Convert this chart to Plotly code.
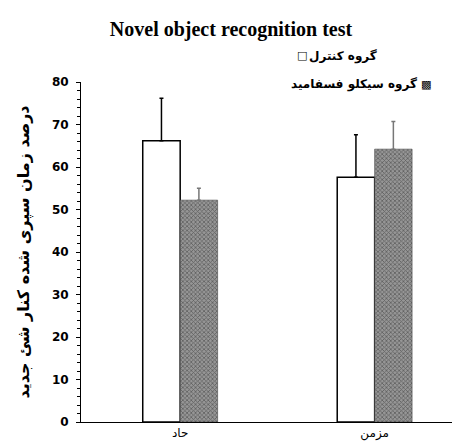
import plotly.graph_objects as go

categories = ["حاد", "مزمن"]
control_vals = [66.2, 57.6]
control_err = [10.0, 10.0]
cyclo_vals = [52.2, 64.2]
cyclo_err = [2.8, 6.5]
series_names = ["گروه کنترل", "گروه سیکلو فسفامید"]
y_ticks = [0, 10, 20, 30, 40, 50, 60, 70, 80]

fig = go.Figure()
fig.add_trace(go.Bar(
    x=categories, y=control_vals, name=series_names[0],
    marker=dict(color="white", line=dict(color="black", width=1.5)),
    error_y=dict(type="data", symmetric=False, array=control_err,
                 arrayminus=[0, 0], color="black", thickness=1.5, width=2),
))
fig.add_trace(go.Bar(
    x=categories, y=cyclo_vals, name=series_names[1],
    marker=dict(color="#8c8c8c", line=dict(color="#444444", width=0.6),
                pattern=dict(shape="x", fgcolor="#262626", bgcolor="#969696",
                             size=3, solidity=0.45)),
    error_y=dict(type="data", symmetric=False, array=cyclo_err,
                 arrayminus=[0, 0], color="#777777", thickness=1.5, width=2),
))


def px_ann(text, x, y, xanchor, size=12):
    pw, ph = 460 - 73, 443 - 74 - 29
    return dict(text=text, x=(x - 73) / pw, y=1 - (y - 74) / ph,
                xref="paper", yref="paper", showarrow=False,
                xanchor=xanchor, yanchor="middle", borderpad=0,
                font=dict(family="DejaVu Sans", size=size, color="black"))


fig.update_layout(
    width=460, height=443,
    margin=dict(l=73, r=0, t=74, b=29),
    paper_bgcolor="white", plot_bgcolor="white",
    showlegend=False,
    barmode="group", bargap=0.615, bargroupgap=0,
    title=dict(text="<b>Novel object recognition test</b>", x=223 / 460, xanchor="center",
               y=1 - 21 / 443, yanchor="middle",
               font=dict(family="Liberation Serif", size=20, color="black")),
    xaxis=dict(range=[-0.51, 1.48], showline=True, linecolor="black", linewidth=1,
               ticks="", showgrid=False, zeroline=False,
               tickfont=dict(family="DejaVu Sans", size=12, color="black")),
    yaxis=dict(range=[0, 80], tickvals=y_ticks, showline=True, linecolor="black",
               linewidth=1, ticks="outside", ticklen=4, tickcolor="black",
               showgrid=False, zeroline=False, ticklabelstandoff=5,
               minor=dict(dtick=2, ticks="outside", ticklen=3, tickcolor="black"),
               tickfont=dict(family="DejaVu Sans", size=12, color="black", weight="bold"),
               title=dict(text="<b>درصد زمان سپری شده کنار شئ جدید</b>", standoff=18,
                          font=dict(family="DejaVu Sans", size=16, color="black"))),
    annotations=[
        px_ann("□", 288, 47, "left", 11),
        px_ann("<b>" + series_names[0] + "</b>", 300, 48, "left"),
        px_ann("<b>" + series_names[1] + "</b>", 410, 77, "right"),
        px_ann("▩", 412, 76, "left", 11),
    ],
)

fig.write_html("out.html")
